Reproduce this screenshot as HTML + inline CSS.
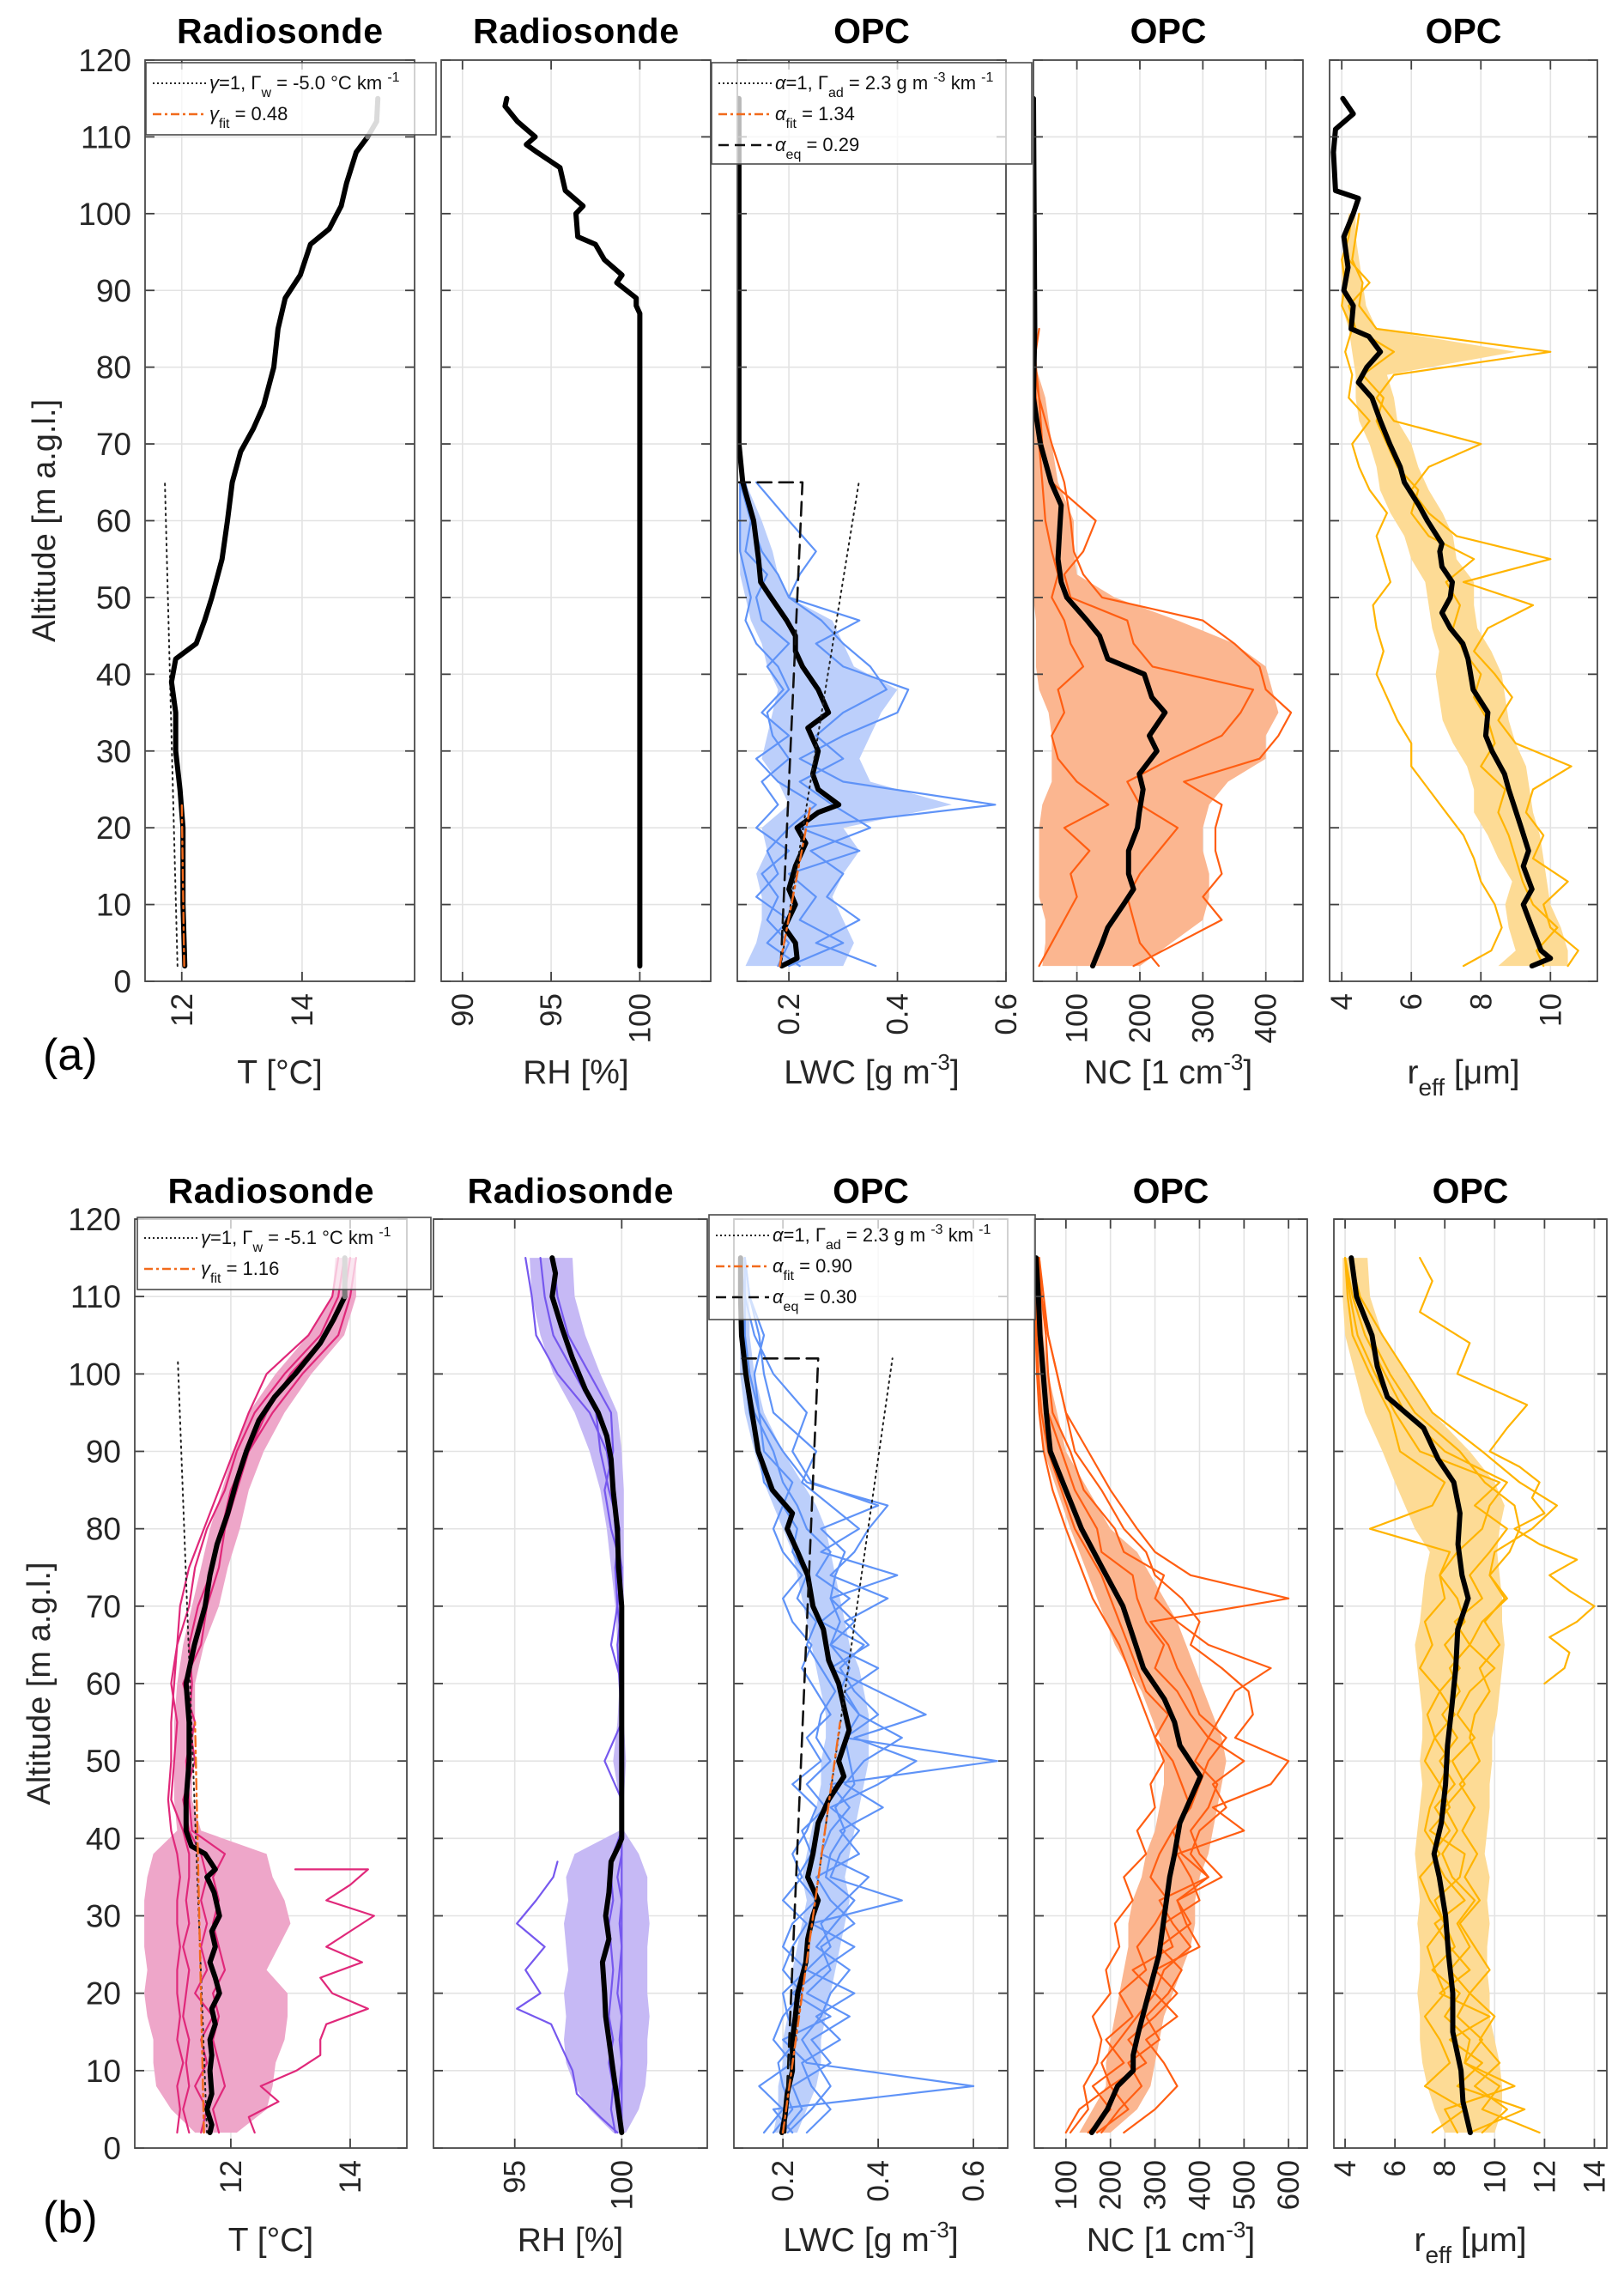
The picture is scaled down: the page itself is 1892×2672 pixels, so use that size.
<!DOCTYPE html>
<html><head><meta charset="utf-8"><style>
html,body{margin:0;padding:0;background:#fff}
svg{display:block;font-family:"Liberation Sans",sans-serif}
</style></head><body>
<svg id="fig" width="1892" height="2672" viewBox="0 0 1892 2672" xmlns="http://www.w3.org/2000/svg">
<defs id="defs"></defs>
<g id="layer"></g>
</svg>
<script>
// ---------------- DATA: (a) ----------------
const aT_alt = [2,10,20,25,30,35,39,42,44,47,50,55,60,65,69,72,75,80,85,89,92,96,98,101,104,108,110];
const aT_mean = [12.05,12.02,12.02,11.97,11.9,11.9,11.83,11.9,12.24,12.38,12.5,12.67,12.76,12.84,12.98,13.19,13.36,13.53,13.6,13.72,13.97,14.14,14.45,14.65,14.74,14.9,15.09];
const aT_topAlt = [110,112,115];
const aT_top = [15.09,15.24,15.26];
const aT_dotAlt = [2,65];
const aT_dot = [11.93,11.72];
const aT_fitAlt = [2,23];
const aT_fit = [12.04,12.0];

const aRH_alt = [2,87,88,89,91,92,94,96,97,100,101,103,106,108,109,110,112,114,115];
const aRH_mean = [100,100,99.8,99.8,98.7,99,98,97.5,96.5,96.4,96.8,95.8,95.5,94.2,93.6,94.1,93.1,92.4,92.5];

const aL_alt = [2,3,5,7,10,12,15,18,20,22,23,25,27,30,33,35,38,41,43,45,47,50,52,55,60,65,70,115];
const aL_mean = [0.187,0.215,0.212,0.192,0.212,0.2,0.212,0.231,0.215,0.254,0.292,0.254,0.244,0.254,0.235,0.273,0.254,0.225,0.212,0.212,0.196,0.167,0.148,0.144,0.135,0.115,0.108,0.108];
const aL_gridAlt = [2,5,8,11,14,17,20,23,26,29,32,35,38,41,44,47,50,53,56,60,65];
const aL_lower = [0.12,0.14,0.15,0.15,0.14,0.16,0.15,0.2,0.18,0.15,0.16,0.17,0.18,0.16,0.15,0.13,0.12,0.11,0.11,0.11,0.11];
const aL_upper = [0.3,0.32,0.3,0.28,0.3,0.33,0.3,0.5,0.35,0.33,0.35,0.37,0.4,0.32,0.3,0.28,0.2,0.18,0.17,0.15,0.12];
const aL_line1 = [0.2,0.3,0.22,0.25,0.2,0.33,0.22,0.58,0.3,0.22,0.3,0.4,0.42,0.3,0.25,0.33,0.2,0.18,0.15,0.13,0.12];
const aL_line2 = [0.36,0.25,0.33,0.27,0.3,0.24,0.35,0.28,0.22,0.3,0.25,0.3,0.38,0.35,0.3,0.26,0.2,0.22,0.25,0.2,0.14];
const aL_line3 = [0.18,0.2,0.16,0.18,0.15,0.2,0.14,0.18,0.15,0.2,0.17,0.16,0.2,0.18,0.14,0.12,0.13,0.12,0.11,0.11,0.11];
const aL_line4 = [0.22,0.16,0.2,0.14,0.18,0.16,0.2,0.25,0.18,0.14,0.2,0.15,0.19,0.16,0.2,0.15,0.14,0.16,0.12,0.13,0.11];
const aL_eqAlt = [2,65,65];
const aL_eq = [0.185,0.225,0.108];
const aL_dotAlt = [2,65];
const aL_dot = [0.185,0.329];
const aL_fitAlt = [2,23];
const aL_fit = [0.183,0.24];

const aN_alt = [2,3,5,7,10,12,14,17,20,22,25,27,30,32,35,37,40,42,45,47,50,52,55,58,62,65,70,76,85,115];
const aN_mean = [125,130,140,149,174,190,182,182,196,199,205,199,227,215,240,219,207,149,136,116,84,75,70,72,75,59,42,31,33,31];
const aN_gridAlt = [2,5,8,11,14,17,20,23,26,29,32,35,38,41,44,47,50,53,56,60,65,70,76,80,85];
const aN_lower = [45,50,50,40,40,40,40,45,60,60,60,55,40,35,35,35,31,31,31,31,31,31,31,31,31];
const aN_upper = [200,250,300,310,310,300,300,310,340,400,400,420,410,400,350,260,160,100,95,95,70,60,50,35,31];
const aN_line1 = [190,260,330,300,330,320,320,330,270,390,420,440,400,390,350,300,140,110,95,90,80,60,40,35,31];
const aN_line2 = [40,60,80,100,90,120,80,150,100,70,60,80,70,110,90,80,60,70,60,50,45,40,35,31,31];
const aN_line3 = [230,200,190,180,200,230,260,200,180,250,330,360,380,220,190,180,90,80,110,130,60,45,40,31,40];

const aR_alt = [2,3,4,7,10,12,15,17,20,25,27,30,32,35,38,42,44,46,48,50,52,54,56,57,60,62,65,67,70,73,76,78,80,82,84,85,88,90,93,97,100,102,103,108,111,113,115];
const aR_mean = [9.47,10,9.73,9.47,9.22,9.47,9.22,9.37,9.16,8.8,8.68,8.32,8.14,8.2,7.78,7.63,7.48,7.12,6.88,7.12,7.18,6.88,6.82,6.88,6.46,6.22,5.8,5.68,5.38,5.11,4.87,4.48,4.72,5.11,4.78,4.27,4.33,4.06,4.18,4.06,4.33,4.48,3.82,3.76,3.82,4.33,4.03];
const aR_gridAlt = [2,4,7,10,13,16,19,22,25,28,31,34,37,40,43,46,49,52,55,58,61,64,67,70,73,76,79,82,85,88,91,94,97,100];
const aR_lower = [8.5,9.0,8.8,8.7,8.9,8.5,8.2,7.8,7.8,7.6,7.2,6.9,6.8,6.7,6.8,6.6,6.5,6.4,6.0,5.8,5.4,5.1,5.0,4.8,4.5,4.4,4.4,4.3,4.2,4.0,4.0,4.0,4.1,4.2];
const aR_upper = [10.5,10.5,10.3,10.0,9.9,9.8,9.7,9.5,9.4,9.3,9.0,8.8,8.7,8.6,8.3,7.9,7.8,7.8,7.3,7.2,6.9,6.5,6.2,6.0,5.6,5.5,5.3,9.0,5.0,4.7,4.6,4.5,4.4,4.4];
const aR_line1 = [10.5,10.8,10,9.8,10.5,9.5,9.8,9.3,9.5,10.6,9,8.5,8.9,8.4,7.8,8.2,9.5,7.5,10,7.3,6.5,6,6.5,8,5.5,5,5.5,10,5,4.5,4.6,4.3,4.4,4.5];
const aR_line2 = [7.5,8.3,8.6,8.4,8.0,7.8,7.5,7.0,6.5,6.0,6.0,5.6,5.3,5.0,5.2,5.0,4.9,5.4,5.2,5.0,5.3,4.8,4.5,4.3,4.8,4.2,4.3,4.1,4.3,4.0,4.1,4.0,4.2,4.3];
const aR_line3 = [9.8,9.6,10.2,9.5,9.2,9.0,8.8,8.5,8.7,8.0,8.4,8.2,7.8,8.0,7.5,7.2,7.4,7.0,7.8,6.5,6.0,6.2,5.6,5.3,5.0,5.2,4.6,5.5,4.4,4.2,4.8,4.2,4.1,4.3];

// ---------------- DATA: (b) ----------------
const bT_alt = [2,3,5,7,10,12,14,16,18,20,22,24,26,28,30,33,35,36,38,39,41,45,50,55,60,65,70,74,78,82,86,90,94,97,100,104,107,110];
const bT_mean = [11.65,11.68,11.6,11.68,11.65,11.68,11.65,11.74,11.68,11.81,11.74,11.65,11.74,11.68,11.81,11.72,11.6,11.74,11.57,11.34,11.25,11.25,11.3,11.3,11.25,11.39,11.57,11.65,11.77,11.95,12.09,12.26,12.47,12.73,13.08,13.5,13.72,13.91];
const bT_topAlt = [110,115];
const bT_top = [13.91,13.91];
const bT_gridAlt = [2,5,8,11,14,17,20,23,26,29,32,35,38,41,45,50,55,60,65,70,75,80,85,90,95,100,105,110,115];
const bT_lower = [11.4,11.0,10.75,10.7,10.7,10.6,10.55,10.6,10.55,10.55,10.55,10.6,10.7,11.1,11.05,11.05,11.05,11.1,11.2,11.35,11.5,11.65,11.85,12.05,12.3,12.75,13.3,13.7,13.75];
const bT_upper = [12.1,12.6,12.7,12.75,12.9,12.95,12.95,12.6,12.8,13.0,12.9,12.7,12.6,11.5,11.35,11.35,11.4,11.4,11.55,11.8,11.95,12.15,12.3,12.55,12.9,13.35,13.9,14.1,14.1];
const bT_line1 = [11.3,11.2,11.3,11.25,11.3,11.2,11.25,11.3,11.2,11.3,11.25,11.3,11.3,11.2,11.0,11.05,11.1,11.0,11.1,11.3,11.4,11.6,11.9,12.1,12.4,12.9,13.5,13.8,13.9];
const bT_line2 = [11.8,11.7,11.9,11.8,11.7,11.8,11.7,11.9,11.8,11.7,11.8,11.7,11.9,11.35,11.3,11.25,11.4,11.2,11.5,11.6,11.8,11.9,12.1,12.3,12.7,13.2,13.8,14.0,14.1];
const bT_line3 = [11.5,11.6,11.4,11.6,11.5,11.7,11.4,11.6,11.5,11.6,11.5,11.6,11.5,11.3,11.2,11.4,11.3,11.35,11.3,11.45,11.7,11.85,12.0,12.3,12.6,13.0,13.6,13.9,14.0];
const bT_line4 = [11.1,11.15,11.1,11.2,11.1,11.15,11.1,11.1,11.15,11.1,11.1,11.15,11.1,11.0,10.95,11.0,11.0,11.05,11.1,11.15,11.3,11.55,11.8,12.05,12.3,12.6,13.3,13.7,13.8];
const bT_outAlt = [2,4,6,8,10,12,14,16,18,20,22,24,26,28,30,32,34,36,36];
const bT_out = [12.4,12.3,12.8,12.5,13.1,13.5,13.5,13.6,14.3,13.7,13.5,14.2,13.6,14.0,14.4,13.6,14.0,14.3,13.08];
const bT_dotAlt = [2,102];
const bT_dot = [11.6,11.11];
const bT_fitAlt = [2,55];
const bT_fit = [11.55,11.4];

const bRH_alt = [2,4,7,10,14,17,20,24,27,30,33,37,39,40,50,60,70,75,80,85,89,92,95,98,102,106,110,113,115];
const bRH_mean = [100,99.9,99.75,99.6,99.4,99.25,99.2,99.1,99.4,99.25,99.4,99.5,99.85,100,100,100,100,99.85,99.8,99.6,99.5,99.3,98.9,98.3,97.7,97.2,96.75,96.9,96.75];
const bRH_gridAlt = [2,5,8,11,14,17,20,23,26,29,32,35,38,41,45,50,55,60,65,70,75,80,85,90,95,100,105,110,115];
const bRH_lower = [99.6,98.5,97.8,97.4,97.3,97.4,97.3,97.5,97.4,97.3,97.5,97.4,97.8,99.9,99.9,99.6,99.8,99.9,99.8,99.7,99.5,99.3,99.0,98.5,97.8,96.8,96.2,95.8,95.7];
const bRH_upper = [100.2,100.8,101.1,101.2,101.2,101.3,101.2,101.2,101.2,101.3,101.2,101.2,100.8,100.1,100.1,100.2,100.1,100.1,100.1,100.1,100.1,100.1,100.1,100.0,99.8,99.0,98.3,97.8,97.7];
const bRH_line1 = [100,99.8,99.9,100,99.9,100,99.8,99.9,100,99.9,100,99.8,100,100,100,99.2,100,100,99.5,99.8,99.7,99.9,99.4,99.0,98.8,97.8,96.8,96.4,96.2];
const bRH_line2 = [100,100,100,100,100,100,100,100,100,100,100,100,100,100,100,100,100,99.9,99.8,100,100,99.7,99.6,99.3,98.5,97.0,96.0,95.8,95.5];
const bRH_line3 = [99.7,99.5,99.6,99.4,99.6,99.4,99.5,99.6,99.5,99.4,99.6,99.5,99.6,100,100,100,100,100,100,99.8,100,99.5,99.2,99.6,99.5,98.5,97.5,97.0,96.8];
const bRH_outAlt = [2,4,7,10,13,16,18,20,23,26,29,32,35,37];
const bRH_out = [99.8,99.0,97.9,97.7,97.2,96.7,95.1,96.2,95.5,96.4,95.1,96.0,96.8,97.0];

const bL_alt = [2,4,7,10,14,17,20,24,27,30,32,35,38,42,45,48,50,54,57,60,63,67,70,74,77,80,82,85,90,95,100,105,110,115];
const bL_mean = [0.198,0.204,0.209,0.22,0.22,0.226,0.231,0.248,0.252,0.263,0.274,0.252,0.263,0.274,0.296,0.328,0.317,0.339,0.328,0.317,0.296,0.285,0.263,0.252,0.231,0.209,0.22,0.178,0.148,0.135,0.122,0.113,0.111,0.111];
const bL_gridAlt = [2,5,8,11,14,17,20,23,26,29,32,35,38,41,44,47,50,53,56,59,62,65,68,71,74,77,80,83,86,90,95,100,105,110,115];
const bL_lower = [0.18,0.19,0.19,0.2,0.2,0.21,0.22,0.22,0.23,0.24,0.25,0.24,0.25,0.26,0.27,0.28,0.28,0.29,0.29,0.28,0.27,0.26,0.25,0.24,0.23,0.22,0.2,0.18,0.16,0.14,0.12,0.11,0.11,0.11,0.11];
const bL_upper = [0.23,0.25,0.27,0.28,0.28,0.29,0.3,0.31,0.32,0.33,0.34,0.33,0.34,0.35,0.36,0.37,0.38,0.38,0.38,0.37,0.36,0.34,0.33,0.32,0.31,0.3,0.29,0.27,0.24,0.2,0.16,0.14,0.13,0.13,0.12];
const bL_line1 = [0.22,0.18,0.6,0.25,0.2,0.3,0.22,0.28,0.35,0.26,0.45,0.3,0.32,0.36,0.3,0.4,0.48,0.35,0.5,0.4,0.3,0.38,0.33,0.42,0.3,0.35,0.38,0.42,0.25,0.2,0.15,0.13,0.12,0.12,0.11];
const bL_line2 = [0.2,0.24,0.22,0.3,0.26,0.34,0.25,0.3,0.28,0.35,0.3,0.27,0.36,0.32,0.41,0.33,0.37,0.45,0.36,0.33,0.4,0.3,0.35,0.3,0.44,0.28,0.36,0.3,0.24,0.27,0.18,0.16,0.15,0.13,0.12];
const bL_line3 = [0.16,0.2,0.15,0.22,0.18,0.2,0.24,0.2,0.22,0.25,0.2,0.24,0.22,0.25,0.27,0.22,0.28,0.25,0.3,0.27,0.24,0.26,0.22,0.2,0.24,0.2,0.18,0.2,0.16,0.15,0.13,0.12,0.11,0.11,0.11];
const bL_line4 = [0.25,0.3,0.26,0.24,0.32,0.27,0.35,0.25,0.3,0.28,0.33,0.38,0.28,0.3,0.34,0.3,0.65,0.33,0.4,0.35,0.32,0.37,0.28,0.34,0.27,0.3,0.25,0.23,0.2,0.18,0.14,0.12,0.12,0.11,0.11];
const bL_line5 = [0.18,0.22,0.2,0.19,0.23,0.21,0.2,0.25,0.2,0.22,0.27,0.23,0.26,0.24,0.29,0.25,0.3,0.27,0.28,0.31,0.28,0.25,0.27,0.23,0.25,0.22,0.23,0.2,0.22,0.16,0.15,0.14,0.16,0.13,0.12];
const bL_line6 = [0.21,0.26,0.3,0.27,0.24,0.28,0.3,0.34,0.27,0.31,0.35,0.29,0.3,0.33,0.31,0.35,0.34,0.33,0.36,0.32,0.34,0.3,0.32,0.3,0.31,0.33,0.28,0.4,0.26,0.22,0.25,0.18,0.14,0.12,0.12];
const bL_eqAlt = [2,102,102];
const bL_eq = [0.205,0.274,0.104];
const bL_dotAlt = [2,102];
const bL_dot = [0.198,0.43];
const bL_fitAlt = [2,55];
const bL_fit = [0.2,0.32];

const bN_alt = [2,5,8,10,12,15,20,25,30,35,38,42,45,48,52,55,58,62,66,70,75,80,85,90,95,100,105,110,115];
const bN_mean = [158,193,216,251,251,263,286,309,321,333,344,356,379,402,356,344,321,274,251,228,181,135,100,65,56,49,42,38,33];
const bN_gridAlt = [2,5,8,11,14,17,20,23,26,29,32,35,38,41,44,47,50,53,56,59,62,65,68,71,74,77,80,85,90,95,100,105,110,115];
const bN_lower = [130,160,190,190,200,210,220,230,240,240,250,270,280,300,310,320,320,310,290,270,240,210,190,170,150,130,110,80,50,40,35,33,32,31];
const bN_upper = [200,260,290,300,310,320,340,360,380,390,390,400,420,430,440,450,460,450,430,410,390,370,350,320,290,260,200,150,100,80,60,50,45,40];
const bN_line1 = [100,130,200,180,220,260,300,250,340,320,400,380,350,500,430,560,600,480,520,510,450,380,400,360,300,280,230,180,120,100,80,60,50,40];
const bN_line2 = [180,220,270,240,310,280,330,360,310,380,350,420,380,400,460,430,500,420,450,480,560,420,350,300,320,230,210,140,110,70,60,55,45,40];
const bN_line3 = [150,200,160,230,190,250,220,280,260,300,330,290,310,340,380,360,340,300,330,280,260,240,220,200,180,150,120,90,60,45,38,35,33,32];
const bN_line4 = [230,300,350,320,280,350,300,320,380,340,310,420,360,340,380,400,420,460,400,380,350,330,290,600,380,300,260,200,150,100,80,60,45,40];
const bN_line5 = [110,150,140,170,180,160,200,190,220,210,250,230,280,260,300,290,320,300,280,260,240,220,190,160,140,120,100,70,50,40,35,32,31,31];
const bN_line6 = [170,240,200,280,240,300,350,300,400,370,350,450,400,380,420,440,390,420,380,350,300,320,280,260,250,180,170,120,90,60,50,40,35,33];

const bR_alt = [2,6,10,15,20,25,30,35,38,42,47,52,57,62,67,71,74,78,82,86,89,93,97,101,105,110,115];
const bR_mean = [9.02,8.73,8.65,8.32,8.32,8.15,8.03,7.78,7.57,7.86,8.03,8.11,8.28,8.44,8.52,8.94,8.69,8.53,8.61,8.36,7.73,7.15,5.7,5.29,5.08,4.46,4.25];
const bR_gridAlt = [2,5,8,11,14,17,20,23,26,29,32,35,38,41,44,47,50,53,56,59,62,65,68,71,74,77,80,83,86,90,95,100,105,110,115];
const bR_lower = [8.0,7.6,7.3,7.1,7.0,7.0,6.9,7.0,7.0,6.9,7.0,6.9,6.8,6.9,7.0,7.1,7.0,7.1,7.1,7.0,6.9,6.8,7.0,7.1,7.2,7.4,6.8,6.4,6.0,5.5,4.8,4.4,4.0,3.9,3.9];
const bR_upper = [10.0,10.3,10.3,10.2,10.0,9.8,9.8,9.7,9.7,9.8,9.7,9.8,9.6,9.7,9.8,9.8,9.9,9.9,10.1,10.2,10.3,10.4,10.3,10.3,10.2,10.1,10.2,10.4,10.0,9.0,7.5,6.5,5.5,5.0,4.9];
const bR_line1 = [11.8,9.5,10.2,8.8,9.5,8.5,9.0,8.2,9.0,8.5,9.2,8.3,7.9,8.5,8.0,8.8,8.3,9.2,8.5,9.0,10,9.0,9.5,10.5,9.8,10,11.5,12.5,11,9.5,7.5,6.5,5.5,4.6,4.2];
const bR_line2 = [9.0,11.2,8.5,9.5,8.2,9.8,7.8,9.0,8.2,7.6,8.8,8.0,7.5,8.2,7.6,8.4,7.8,8.5,7.9,8.6,8.2,9.0,8.4,9.5,9.0,9.8,10.5,9.2,10.2,7.0,6.0,5.2,4.5,4.2,4.0];
const bR_line3 = [8.5,8.0,10.8,8.8,9.0,8.0,8.6,7.5,8.4,8.0,7.6,8.6,8.8,7.4,8.2,7.8,8.2,7.6,8.4,7.8,8.6,8.0,8.8,8.5,7.8,8.2,5.0,7.5,8.0,6.2,5.8,5.0,4.3,4.1,4.0];
const bR_line4 = [9.5,10.5,9.2,10.2,9.4,10.0,9.0,9.8,9.2,8.6,9.4,8.8,9.3,8.7,9.2,8.6,9.4,9.0,9.2,9.8,9.4,10.2,9.6,10.4,9.8,10.6,11.0,10.8,9.6,8.6,6.8,5.8,5.0,4.5,4.3];
const bR_line5 = [7.5,8.8,7.2,8.2,7.8,7.2,8.0,7.6,7.3,8.0,7.4,7.0,7.8,7.2,7.4,7.8,7.2,7.6,7.3,7.8,7.0,7.5,7.2,8.0,7.8,8.5,9.5,9.8,10.5,8.0,6.4,5.6,4.8,4.3,4.0];
const bR_outAlt = [60,62,64,66,68,70,72,74,76,78,80,82,84,86,88,90,93,96,100,104,108,112,115];
const bR_out = [12.0,12.8,13.0,12.2,13.3,14.0,13.0,12.2,13.3,11.8,10.8,12.0,11.5,11.8,11.0,9.8,10.5,11.3,8.5,9.0,7.0,7.5,7.0];

// ---------------- axes config ----------------
const aTicks = [[12,14],[90,95,100],[0.2,0.4,0.6],[100,200,300,400],[4,6,8,10]];
const aTickLabels = [["12","14"],["90","95","100"],["0.2","0.4","0.6"],["100","200","300","400"],["4","6","8","10"]];
const bTicks = [[12,14],[95,100],[0.2,0.4,0.6],[100,200,300,400,500,600],[4,6,8,10,12,14]];
const bTickLabels = [["12","14"],["95","100"],["0.2","0.4","0.6"],["100","200","300","400","500","600"],["4","6","8","10","12","14"]];
const altTicks = [0,10,20,30,40,50,60,70,80,90,100,110,120];

const NS = "http://www.w3.org/2000/svg";
const layer = document.getElementById('layer');
const defs = document.getElementById('defs');
function mk(tag, attrs, parent){ const e=document.createElementNS(NS,tag); for(const k in attrs) e.setAttribute(k,attrs[k]); (parent||layer).appendChild(e); return e; }

const rows = {
  a:{top:70, bot:1143, panels:[[169,483,11.39,15.87],[514,828,88.8,104],[859,1172,0.105,0.6],[1204,1518,31,459],[1549,1861,3.65,11.35]], ticks:aTicks, labels:aTickLabels, titleY:50, xlabY:1262, tag:"(a)", tagY:1246},
  b:{top:1420, bot:2502, panels:[[157,474,10.39,14.95],[505,824,91.2,104],[855,1174,0.097,0.672],[1205,1523,29,642],[1554,1872,3.55,14.5]], ticks:bTicks, labels:bTickLabels, titleY:1401, xlabY:2622, tag:"(b)", tagY:2600}
};
const titles = ["Radiosonde","Radiosonde","OPC","OPC","OPC"];
const panelNames = ["temperature","humidity","lwc","nc","reff"];

function scales(row, i){
  const R=rows[row], p=R.panels[i];
  return { x: v => p[0] + (v-p[2])/(p[3]-p[2])*(p[1]-p[0]), y: a => R.bot - a/120*(R.bot-R.top), p, R };
}

const panelGroups = {};
function drawAxes(row){
  const R = rows[row];
  R.panels.forEach((p,i)=>{
    const s = scales(row,i);
    const g = mk('g',{});
    
    
    const cp = mk('clipPath',{id:'clip-'+row+i},defs);
    mk('rect',{x:p[0],y:R.top,width:p[1]-p[0],height:R.bot-R.top},cp);
    const grid = mk('g',{stroke:'#e3e3e3','stroke-width':1.6},g);
    
    
    altTicks.forEach(a=>{ mk('line',{x1:p[0],x2:p[1],y1:s.y(a),y2:s.y(a)},grid); });
    R.ticks[i].forEach(v=>{ mk('line',{x1:s.x(v),x2:s.x(v),y1:R.top,y2:R.bot},grid); });
    const data = mk('g',{'clip-path':'url(#clip-'+row+i+')'},g);
    
    
    panelGroups[row+i] = data;
    const fr = mk('g',{},g);
    
    
    const tk = mk('g',{stroke:'#404040','stroke-width':1.8},fr);
    altTicks.forEach(a=>{ const y=s.y(a); mk('line',{x1:p[0],x2:p[0]+11,y1:y,y2:y},tk); mk('line',{x1:p[1],x2:p[1]-11,y1:y,y2:y},tk); });
    R.ticks[i].forEach(v=>{ const x=s.x(v); mk('line',{x1:x,x2:x,y1:R.bot,y2:R.bot-11},tk); mk('line',{x1:x,x2:x,y1:R.top,y2:R.top+11},tk); });
    const box = mk('rect',{x:p[0],y:R.top,width:p[1]-p[0],height:R.bot-R.top,fill:'none',stroke:'#4a4a4a','stroke-width':1.8},fr);
    
    
    R.ticks[i].forEach((v,j)=>{
      const x=s.x(v)+12, y=R.bot+14;
      const t = mk('text',{x:0,y:0,transform:'translate('+x+','+y+') rotate(-90)','text-anchor':'end','font-size':35,fill:'#262626'},g);
      t.textContent = R.labels[i][j];
      
      
    });
    const tt = mk('text',{x:(p[0]+p[1])/2,y:R.titleY,'text-anchor':'middle','font-size':41,'font-weight':'bold',fill:'#000'},g);
    tt.textContent = titles[i];
    if(titles[i]==="Radiosonde") tt.setAttribute('textLength', 240);
    
    
  });
  const p0 = R.panels[0];
  altTicks.forEach(a=>{
    const s=scales(row,0);
    const t = mk('text',{x:p0[0]-16,y:s.y(a)+13,'text-anchor':'end','font-size':37,fill:'#262626'});
    t.textContent = String(a);
    
    
  });
  const yt = mk('text',{x:0,y:0,transform:'translate('+(row==='a'?64:58)+','+((R.top+R.bot)/2)+') rotate(-90)','text-anchor':'middle','font-size':38,fill:'#262626'});
  yt.textContent = 'Altitude [m a.g.l.]';
  
  
  const tag = mk('text',{x:50,y:R.tagY,'font-size':52,fill:'#000'});
  tag.textContent = R.tag;
  
  
}

function xlabel(row, i, parts){
  const R=rows[row], p=R.panels[i];
  const t = mk('text',{x:(p[0]+p[1])/2,y:R.xlabY,'text-anchor':'middle','font-size':39,fill:'#262626'});
  
  
  parts.forEach(pt=>{ const s=mk('tspan',{},t); if(pt[1]==='sup'){s.setAttribute('dy',-16);s.setAttribute('font-size',26);} if(pt[1]==='sub'){s.setAttribute('dy',14);s.setAttribute('font-size',28);} if(pt[1]==='back'){s.setAttribute('dy',pt[2]);} s.textContent=pt[0]; });
}

function line(row,i,alts,vals,style,name){
  const s=scales(row,i);
  const d = alts.map((a,k)=>(k?'L':'M')+s.x(vals[k]).toFixed(1)+','+s.y(a).toFixed(1)).join(' ');
  const e = mk('path',Object.assign({d:d,fill:'none','stroke-linejoin':'round','stroke-linecap':'round'},style),panelGroups[row+i]);
  
  
  return e;
}
function band(row,i,alts,lo,hi,fill,name){
  const s=scales(row,i);
  let pts = alts.map((a,k)=>s.x(hi[k]).toFixed(1)+','+s.y(a).toFixed(1));
  for(let k=alts.length-1;k>=0;k--) pts.push(s.x(lo[k]).toFixed(1)+','+s.y(alts[k]).toFixed(1));
  const e = mk('polygon',{points:pts.join(' '),fill:fill,stroke:'none'},panelGroups[row+i]);
  
  
}
const MEAN = {stroke:'#000','stroke-width':6};
const GRAYTOP = {stroke:'#7a7a7a','stroke-width':6};
function thin(c){ return {stroke:c,'stroke-width':2.2}; }
const DOT = {stroke:'#222','stroke-width':2,'stroke-dasharray':'2 5'};
const FIT = {stroke:'#f26a1b','stroke-width':2.4,'stroke-dasharray':'12 5 3 5'};
const EQ = {stroke:'#111','stroke-width':2.6,'stroke-dasharray':'16 9'};

drawAxes('a'); drawAxes('b');

line('a',0,aT_dotAlt,aT_dot,DOT,'adiabatic-temperature-line');
line('a',0,aT_alt,aT_mean,MEAN,'mean-temperature');
line('a',0,aT_topAlt,aT_top,GRAYTOP,'temperature-above-cloud');
line('a',0,aT_fitAlt,aT_fit,FIT,'fit-temperature-line');
line('a',1,aRH_alt,aRH_mean,MEAN,'mean-rh');

const blueBand='#bccffb', blue='#5f93f7';
band('a',2,aL_gridAlt,aL_lower,aL_upper,blueBand,'lwc-band');
[aL_line1,aL_line2,aL_line3,aL_line4].forEach((v,k)=>line('a',2,aL_gridAlt,v,thin(blue),'lwc-profile-'+(k+1)));
line('a',2,aL_alt,aL_mean,MEAN,'mean-lwc');
line('a',2,aL_eqAlt,aL_eq,EQ,'alpha-eq-line');
line('a',2,aL_dotAlt,aL_dot,DOT,'adiabatic-lwc-line');
line('a',2,aL_fitAlt,aL_fit,FIT,'alpha-fit-line');

const orBand='#fbb690', orange='#ff5e12';
band('a',3,aN_gridAlt,aN_lower,aN_upper,orBand,'nc-band');
[aN_line1,aN_line2,aN_line3].forEach((v,k)=>line('a',3,aN_gridAlt,v,thin(orange),'nc-profile-'+(k+1)));
line('a',3,aN_alt,aN_mean,MEAN,'mean-nc');

const yBand='#fddb95', yellow='#ffb400';
band('a',4,aR_gridAlt,aR_lower,aR_upper,yBand,'reff-band');
[aR_line1,aR_line2,aR_line3].forEach((v,k)=>line('a',4,aR_gridAlt,v,thin(yellow),'reff-profile-'+(k+1)));
line('a',4,aR_alt,aR_mean,MEAN,'mean-reff');

const pinkBand='#eea6c9', pink='#e0287a';
band('b',0,bT_gridAlt,bT_lower,bT_upper,pinkBand,'temperature-band');
[bT_line1,bT_line2,bT_line3,bT_line4].forEach((v,k)=>line('b',0,bT_gridAlt,v,thin(pink),'temperature-profile-'+(k+1)));
line('b',0,bT_outAlt,bT_out,thin(pink),'temperature-outlier-profile');
line('b',0,bT_dotAlt,bT_dot,DOT,'adiabatic-temperature-line');
line('b',0,bT_alt,bT_mean,MEAN,'mean-temperature');
line('b',0,bT_topAlt,bT_top,GRAYTOP,'temperature-above-cloud');
line('b',0,bT_fitAlt,bT_fit,FIT,'fit-temperature-line');

const purBand='#c6b9f5', purple='#7658ee';
band('b',1,bRH_gridAlt,bRH_lower,bRH_upper,purBand,'rh-band');
[bRH_line1,bRH_line2,bRH_line3].forEach((v,k)=>line('b',1,bRH_gridAlt,v,thin(purple),'rh-profile-'+(k+1)));
line('b',1,bRH_outAlt,bRH_out,thin(purple),'rh-outlier-profile');
line('b',1,bRH_alt,bRH_mean,MEAN,'mean-rh');

band('b',2,bL_gridAlt,bL_lower,bL_upper,blueBand,'lwc-band');
[bL_line1,bL_line2,bL_line3,bL_line4,bL_line5,bL_line6].forEach((v,k)=>line('b',2,bL_gridAlt,v,thin(blue),'lwc-profile-'+(k+1)));
line('b',2,bL_alt,bL_mean,MEAN,'mean-lwc');
line('b',2,bL_eqAlt,bL_eq,EQ,'alpha-eq-line');
line('b',2,bL_dotAlt,bL_dot,DOT,'adiabatic-lwc-line');
line('b',2,bL_fitAlt,bL_fit,FIT,'alpha-fit-line');

band('b',3,bN_gridAlt,bN_lower,bN_upper,orBand,'nc-band');
[bN_line1,bN_line2,bN_line3,bN_line4,bN_line5,bN_line6].forEach((v,k)=>line('b',3,bN_gridAlt,v,thin(orange),'nc-profile-'+(k+1)));
line('b',3,bN_alt,bN_mean,MEAN,'mean-nc');

band('b',4,bR_gridAlt,bR_lower,bR_upper,yBand,'reff-band');
[bR_line1,bR_line2,bR_line3,bR_line4,bR_line5].forEach((v,k)=>line('b',4,bR_gridAlt,v,thin(yellow),'reff-profile-'+(k+1)));
line('b',4,bR_outAlt,bR_out,thin(yellow),'reff-outlier-profile');
line('b',4,bR_alt,bR_mean,MEAN,'mean-reff');

['a','b'].forEach(r=>{
  xlabel(r,0,[['T [°C]']]);
  xlabel(r,1,[['RH [%]']]);
  xlabel(r,2,[['LWC [g m'],['-3','sup'],[']','back',16]]);
  xlabel(r,3,[['NC [1 cm'],['-3','sup'],[']','back',16]]);
  xlabel(r,4,[['r'],['eff','sub'],[' [μm]','back',-14]]);
});

// ---- legends: parts [text, kind]; kinds: '' normal, 'it' italic, 'sub', 'sup'
function legend(x,y,w,h,entries,name){
  const g = mk('g',{});
  
  
  mk('rect',{x:x,y:y,width:w,height:h,fill:'rgba(255,255,255,0.72)',stroke:'#4a4a4a','stroke-width':1.6},g);
  entries.forEach((en,k)=>{
    const ly = y+24+k*36;
    const ln = mk('line',Object.assign({x1:x+8,x2:x+70,y1:ly,y2:ly},en.style),g);
    
    
    const t = mk('text',{x:x+74,y:ly+7,'font-size':22,fill:'#111'},g);
    
    
    let off = 0;
    en.parts.forEach(pt=>{
      const s=mk('tspan',{},t);
      let target = 0;
      if(pt[1]==='sub'){ target = 9; s.setAttribute('font-size',16); }
      else if(pt[1]==='sup'){ target = -9; s.setAttribute('font-size',16); }
      if(pt[1]==='it') s.setAttribute('font-style','italic');
      s.setAttribute('dy', target-off);
      off = target;
      s.textContent=pt[0];
    });
  });
}
const LDOT={stroke:'#222','stroke-width':2,'stroke-dasharray':'2 3'};
const LFIT={stroke:'#f26a1b','stroke-width':2.4,'stroke-dasharray':'10 4 3 4'};
const LEQ={stroke:'#111','stroke-width':2.6,'stroke-dasharray':'12 7'};
legend(170,73,338,84,[
  {style:LDOT,parts:[['γ','it'],['=1,  Γ',''],['w','sub'],[' = -5.0 °C km ',''],['-1','sup']]},
  {style:LFIT,parts:[['γ','it'],['fit','sub'],[' = 0.48','']]}
],'legend-temperature-a');
legend(829,73,373,118,[
  {style:LDOT,parts:[['α','it'],['=1,  Γ',''],['ad','sub'],[' = 2.3 g m ',''],['-3','sup'],[' km ',''],['-1','sup']]},
  {style:LFIT,parts:[['α','it'],['fit','sub'],[' = 1.34','']]},
  {style:LEQ,parts:[['α','it'],['eq','sub'],[' = 0.29','']]}
],'legend-lwc-a');
legend(160,1418,342,84,[
  {style:LDOT,parts:[['γ','it'],['=1,  Γ',''],['w','sub'],[' = -5.1 °C km ',''],['-1','sup']]},
  {style:LFIT,parts:[['γ','it'],['fit','sub'],[' = 1.16','']]}
],'legend-temperature-b');
legend(826,1415,380,122,[
  {style:LDOT,parts:[['α','it'],['=1,  Γ',''],['ad','sub'],[' = 2.3 g m ',''],['-3','sup'],[' km ',''],['-1','sup']]},
  {style:LFIT,parts:[['α','it'],['fit','sub'],[' = 0.90','']]},
  {style:LEQ,parts:[['α','it'],['eq','sub'],[' = 0.30','']]}
],'legend-lwc-b');
</script>
</body></html>
